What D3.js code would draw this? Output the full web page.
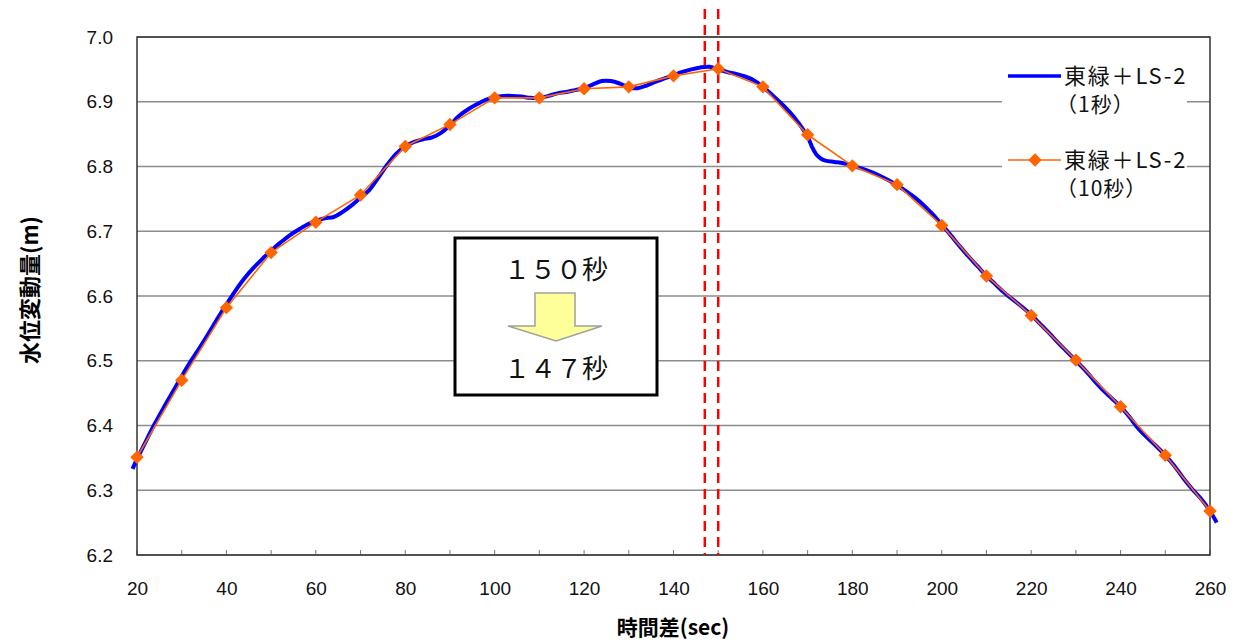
<!DOCTYPE html>
<html><head><meta charset="utf-8">
<script src="https://cdn.jsdelivr.net/npm/d3@7"></script>
<style>body{margin:0;background:#fff}svg{display:block}</style>
</head><body>
<svg id="c" width="1240" height="642"></svg>
<script>
const yTicks = [6.2,6.3,6.4,6.5,6.6,6.7,6.8,6.9,7.0];
const xTicks = [20,40,60,80,100,120,140,160,180,200,220,240,260];
const xMinor = [20,30,40,50,60,70,80,90,100,110,120,130,140,150,160,170,180,190,200,210,220,230,240,250,260];
const tenSecTime = [20,30,40,50,60,70,80,90,100,110,120,130,140,150,160,170,180,190,200,210,220,230,240,250,260];
const tenSecValue = [6.351,6.470,6.582,6.667,6.714,6.756,6.831,6.865,6.906,6.906,6.920,6.923,6.940,6.951,6.923,6.849,6.801,6.772,6.709,6.631,6.570,6.501,6.429,6.354,6.268];
const oneSecTime = [19,20,22,24,26,28,30,32,34,36,38,40,42,44,46,48,50,52,54,56,58,60,62,64,66,68,70,72,74,76,78,80,82,84,86,88,90,92,94,96,98,100,102,104,106,108,110,112,114,116,118,120,122,124,126,128,130,132,134,136,138,140,142,144,146,148,150,152,154,156,158,160,162,164,166,168,170,171,172,173,174,176,178,180,182,184,186,188,190,192,194,196,198,200,202,204,206,208,210,212,214,216,218,220,222,224,226,228,230,232,234,236,238,240,242,244,246,248,250,252,254,256,258,260,261.5];
const oneSecValue = [6.333,6.348,6.376,6.403,6.428,6.452,6.476,6.499,6.520,6.542,6.565,6.587,6.608,6.627,6.643,6.657,6.670,6.682,6.693,6.702,6.710,6.716,6.720,6.722,6.730,6.740,6.752,6.764,6.783,6.803,6.820,6.831,6.838,6.842,6.845,6.852,6.864,6.878,6.888,6.896,6.903,6.907,6.909,6.909,6.908,6.906,6.906,6.909,6.913,6.915,6.918,6.921,6.927,6.932,6.932,6.928,6.922,6.921,6.925,6.931,6.936,6.941,6.946,6.950,6.953,6.954,6.950,6.946,6.943,6.939,6.933,6.923,6.911,6.898,6.884,6.867,6.846,6.830,6.818,6.812,6.809,6.807,6.805,6.801,6.797,6.792,6.786,6.779,6.771,6.762,6.752,6.740,6.726,6.710,6.694,6.677,6.661,6.646,6.631,6.618,6.605,6.594,6.583,6.571,6.557,6.543,6.528,6.514,6.500,6.486,6.470,6.455,6.442,6.429,6.413,6.395,6.381,6.368,6.354,6.338,6.319,6.302,6.287,6.268,6.250];
const markerTimes = [147,150];
const seriesNames = ["東緑＋LS-2","東緑＋LS-2"];
const seriesSub = ["（1秒）","（10秒）"];
const boxTexts = ["１５０秒","１４７秒"];

const svg = d3.select("#c");
const L=137,R=1210,T=37,B=555;
const x = d3.scaleLinear().domain([20,260]).range([L,R]);
const y = d3.scaleLinear().domain([6.2,7.0]).range([B,T]);
const num = "'Liberation Sans', Arial, sans-serif";
const jp = "'Noto Sans CJK JP', sans-serif";

// gridlines
svg.append("g").selectAll("line").data(yTicks).join("line")
  .attr("x1",L).attr("x2",R).attr("y1",d=>y(d)).attr("y2",d=>y(d))
  .attr("stroke","#8c8c8c").attr("stroke-width",1.3);

// y axis
const ya = svg.append("g").attr("transform",`translate(${L},0)`)
  .call(d3.axisLeft(y).tickValues(yTicks).tickFormat(d3.format(".1f")).tickSize(0).tickPadding(24));
ya.select(".domain").remove();
ya.selectAll("text").attr("font-family",num).attr("font-size",19).attr("fill","#111");

// x axis labels
const xa = svg.append("g").attr("transform",`translate(0,${B})`)
  .call(d3.axisBottom(x).tickValues(xTicks).tickFormat(d3.format("d")).tickSize(0).tickPadding(27));
xa.select(".domain").remove();
xa.selectAll("text").attr("font-family",num).attr("font-size",19).attr("fill","#111");
// minor ticks inward
svg.append("g").selectAll("line").data(xMinor).join("line")
  .attr("x1",d=>x(d)).attr("x2",d=>x(d)).attr("y1",B).attr("y2",B-5)
  .attr("stroke","#777").attr("stroke-width",1);

// frame
svg.append("rect").attr("x",L).attr("y",T).attr("width",R-L).attr("height",B-T)
  .attr("fill","none").attr("stroke","#333").attr("stroke-width",1.5);

// titles
svg.append("text").attr("x",673).attr("y",635).attr("text-anchor","middle")
  .attr("font-family",jp).attr("font-weight","bold").attr("font-size",21).text("時間差(sec)");
svg.append("text").attr("transform","translate(38,290) rotate(-90)").attr("text-anchor","middle")
  .attr("font-family",jp).attr("font-weight","bold").attr("font-size",22).text("水位変動量(m)");

// dashed red lines
svg.append("g").selectAll("line").data(markerTimes).join("line")
  .attr("x1",d=>x(d)).attr("x2",d=>x(d)).attr("y1",9).attr("y2",B)
  .attr("stroke","#ff0000").attr("stroke-width",2.5).attr("stroke-dasharray","10,6");

// blue series
const blue = oneSecTime.map((t,i)=>[t,oneSecValue[i]]);
svg.append("path").datum(blue)
  .attr("d",d3.line().x(d=>x(d[0])).y(d=>y(d[1])).curve(d3.curveCatmullRom))
  .attr("fill","none").attr("stroke","#0000ff").attr("stroke-width",4).attr("stroke-linejoin","round");

// orange series
const orange = tenSecTime.map((t,i)=>[t,tenSecValue[i]]);
svg.append("path").datum(orange)
  .attr("d",d3.line().x(d=>x(d[0])).y(d=>y(d[1])))
  .attr("fill","none").attr("stroke","#ff6600").attr("stroke-width",1.6);
const diamond = d3.symbol().type(d3.symbolDiamond2).size(115);
svg.append("g").selectAll("path").data(orange).join("path")
  .attr("transform",d=>`translate(${x(d[0])},${y(d[1])})`)
  .attr("d",diamond).attr("fill","#ff6600");

// legend
svg.append("rect").attr("x",1002).attr("y",60).attr("width",185).attr("height",140).attr("fill","#fff");
const lg = [{y:76,c:"#0000ff",w:3.5,m:false},{y:160,c:"#ff6600",w:1.6,m:true}];
lg.forEach((d,i)=>{
  svg.append("line").attr("x1",1008).attr("x2",1061).attr("y1",d.y).attr("y2",d.y)
    .attr("stroke",d.c).attr("stroke-width",d.w);
  if(d.m) svg.append("path").attr("transform",`translate(1035,${d.y})`).attr("d",diamond).attr("fill",d.c);
  svg.append("text").attr("x",1064).attr("y",d.y+8).attr("font-family",jp).attr("font-size",22)
    .attr("letter-spacing",1.8).attr("fill","#111").text(seriesNames[i]);
  svg.append("text").attr("x",1056).attr("y",d.y+36).attr("font-family",jp).attr("font-size",21)
    .attr("letter-spacing",1).attr("fill","#111").text(seriesSub[i]);
});

// annotation box
svg.append("rect").attr("x",455).attr("y",238).attr("width",202).attr("height",157)
  .attr("fill","#fff").attr("stroke","#000").attr("stroke-width",3);
svg.append("text").attr("x",556).attr("y",279).attr("text-anchor","middle")
  .attr("font-family",jp).attr("font-size",26).attr("fill","#111").text(boxTexts[0]);
svg.append("text").attr("x",556).attr("y",378).attr("text-anchor","middle")
  .attr("font-family",jp).attr("font-size",26).attr("fill","#111").text(boxTexts[1]);
svg.append("path").attr("d","M535,293 L575,293 L575,326 L602,326 L556,341 L508,326 L535,326 Z")
  .attr("fill","#ffff99").attr("stroke","#a0a0a0").attr("stroke-width",1.5);
</script>
</body></html>
